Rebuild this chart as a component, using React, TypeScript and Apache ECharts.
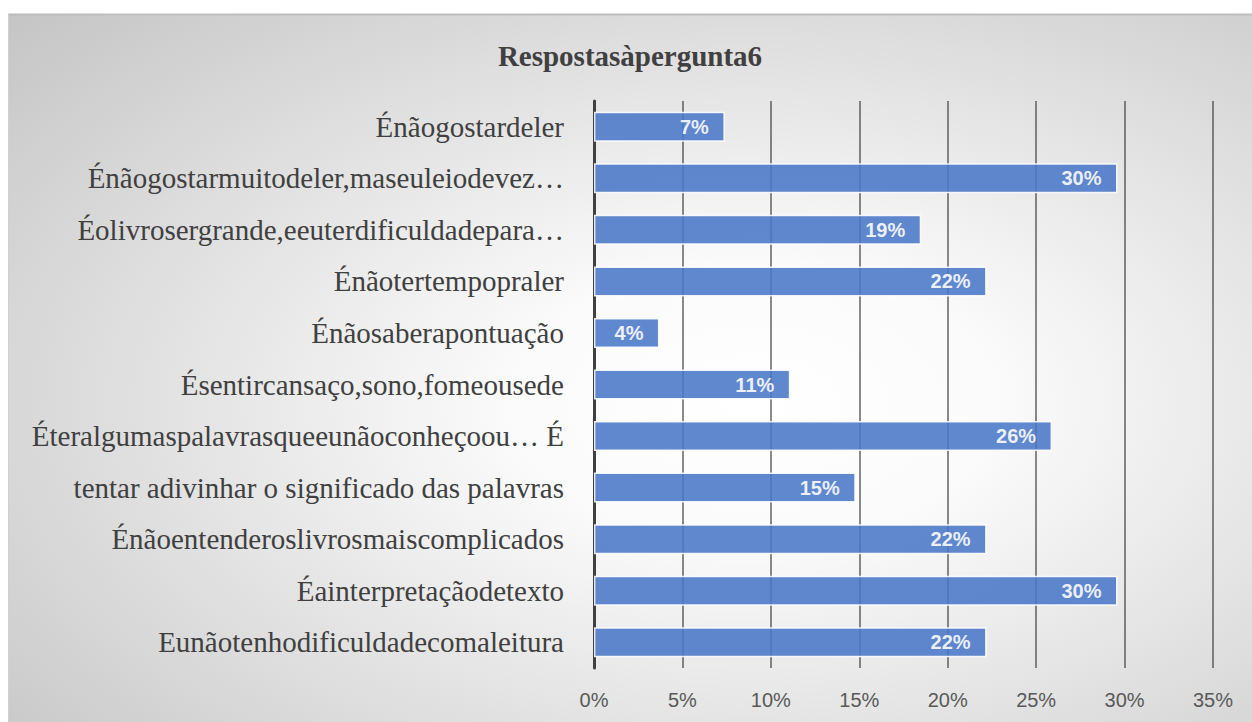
import React, { useEffect, useRef } from "react";
import * as echarts from "echarts";

const titleText = "Respostasàpergunta6";

const categories = [
  "Énãogostardeler",
  "Énãogostarmuitodeler,maseuleiodevez…",
  "Éolivrosergrande,eeuterdificuldadepara…",
  "Énãotertempopraler",
  "Énãosaberapontuação",
  "Ésentircansaço,sono,fomeousede",
  "Éteralgumaspalavrasqueeunãoconheçoou… É",
  "tentar adivinhar o significado das palavras",
  "Énãoentenderoslivrosmaiscomplicados",
  "Éainterpretaçãodetexto",
  "Eunãotenhodificuldadecomaleitura",
];

// percentages
const values = [7.4, 29.6, 18.5, 22.2, 3.7, 11.1, 25.9, 14.8, 22.2, 29.6, 22.2];

const axisMin = 0;
const axisMax = 35;
const axisStep = 5;

export default function App() {
  const ref = useRef<HTMLDivElement>(null);

  useEffect(() => {
    if (!ref.current) return;
    const chart = echarts.init(ref.current, undefined, { renderer: "svg" });
    chart.setOption({
      animation: false,
      backgroundColor: "#ffffff",
      graphic: [
        {
          type: "rect",
          z: -10,
          silent: true,
          shape: { x: 8, y: 14, width: 1244, height: 708 },
          style: {
            fill: {
              type: "radial",
              x: 0.6,
              y: 0.55,
              r: 1.05,
              colorStops: [
                { offset: 0, color: "#ffffff" },
                { offset: 0.18, color: "#fbfbfb" },
                { offset: 1, color: "#b0b0b0" },
              ],
            },
          },
        },
        {
          type: "line",
          z: -9,
          silent: true,
          shape: { x1: 8, y1: 14.5, x2: 1252, y2: 14.5 },
          style: { stroke: "#bdbdbd", lineWidth: 2 },
        },
        {
          type: "line",
          z: -9,
          silent: true,
          shape: { x1: 8.5, y1: 14, x2: 8.5, y2: 722 },
          style: { stroke: "#d0d0d0", lineWidth: 1 },
        },
      ],
      title: {
        text: titleText,
        left: 625,
        textAlign: "center",
        top: 36,
        textStyle: {
          fontFamily: "'Liberation Serif', serif",
          fontWeight: "bold",
          fontSize: 29,
          color: "#404040",
        },
      },
      grid: { left: 594, right: 39, top: 101, bottom: 54, containLabel: false },
      xAxis: {
        type: "value",
        min: axisMin,
        max: axisMax,
        interval: axisStep,
        axisLine: { show: false },
        axisTick: { show: false },
        axisLabel: {
          formatter: (v: number) => `${v}%`,
          fontFamily: "'Liberation Sans', sans-serif",
          fontSize: 20,
          color: "#595959",
          margin: 22,
        },
        splitLine: {
          show: true,
          lineStyle: { color: "rgba(60,60,60,0.6)", width: 2 },
        },
      },
      yAxis: {
        type: "category",
        inverse: true,
        data: categories,
        axisLine: { show: true, lineStyle: { color: "#404040", width: 3 } },
        axisTick: { show: false },
        axisLabel: {
          fontFamily: "'Liberation Serif', serif",
          fontSize: 29,
          color: "#404040",
          margin: 30,
        },
      },
      series: [
        {
          type: "bar",
          data: values,
          barWidth: 30,
          itemStyle: {
            color: "#4a78c8",
            opacity: 0.88,
            borderColor: "#ffffff",
            borderWidth: 1.5,
          },
          label: {
            show: true,
            position: "insideRight",
            distance: 16,
            formatter: (p: any) => `${Math.round(p.value)}%`,
            fontFamily: "'Liberation Sans', sans-serif",
            fontWeight: "bold",
            fontSize: 20,
            color: "#ffffff",
          },
        },
      ],
    });
    return () => chart.dispose();
  }, []);

  return (
    <div
      ref={ref}
      style={{ position: "fixed", left: 0, top: 0, width: 1252, height: 722 }}
    />
  );
}
